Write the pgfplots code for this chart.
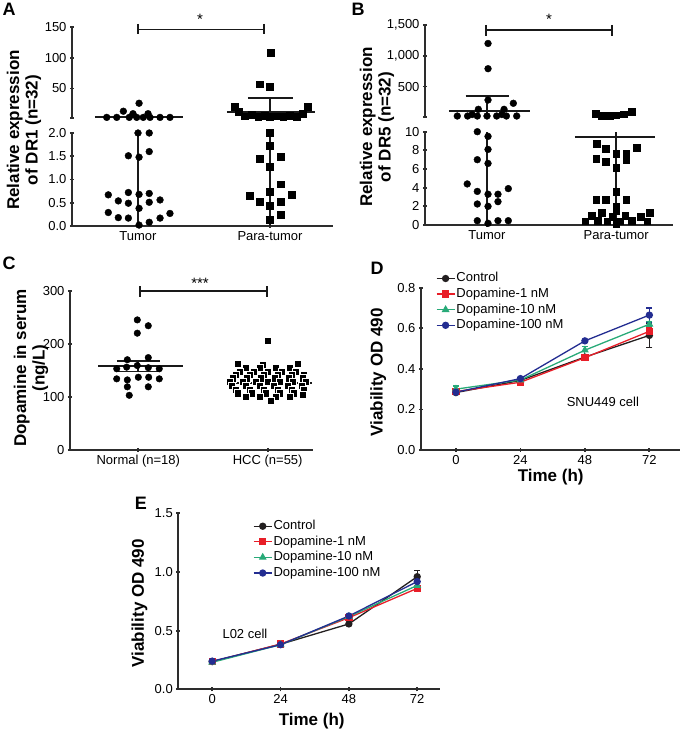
\documentclass[border=0pt]{standalone}
\usepackage{pgfplots}
\usepackage{pgfplotstable}
\pgfplotsset{compat=1.18}
\usepackage{fontspec}
\setmainfont{Liberation Sans}
\definecolor{ctl}{RGB}{35,31,32}
\definecolor{dred}{RGB}{232,30,40}
\definecolor{dgreen}{RGB}{40,170,120}
\definecolor{dblue}{RGB}{35,45,145}
\definecolor{axc}{RGB}{45,45,45}
\newcommand{\tkf}{\fontsize{13}{15}\selectfont}
\newcommand{\lbf}{\fontsize{17}{18.3}\selectfont\bfseries}
\newcommand{\plf}{\fontsize{18}{20}\selectfont\bfseries}
\newcommand{\stf}{\fontsize{15}{15}\selectfont}
\pgfplotsset{
  prism/.style={
    scale only axis, clip=false, anchor=south west,
    axis line style={line width=1.8pt, color=axc},
    tick style={line width=1.8pt, color=axc},
    tick align=outside, major tick length=4pt,
    tick label style={font=\tkf, color=black},
    /pgf/number format/assume math mode=true,
    scaled y ticks=false,
  },
  noarr/.style={
    every outer x axis line/.append style={-},
    every outer y axis line/.append style={-},
    every inner x axis line/.append style={-},
    every inner y axis line/.append style={-},
    x axis line style={-}, y axis line style={-},
  },
  al/.style={axis x line=bottom, axis y line=left, noarr},
  alu/.style={axis x line=none, axis y line=left, noarr, xtick=\empty},
  eb/.style={color=black!90, line width=1.8pt, no markers},
  fix1/.style={yticklabel style={/pgf/number format/fixed, /pgf/number format/fixed zerofill, /pgf/number format/precision=1}},
  circ/.style={only marks, mark=*, mark size=3.4pt, mark options={fill=black, draw=black}},
  sqr/.style={only marks, mark=square*, mark size=3.4pt, mark options={fill=black, draw=black}},
  ser/.style={color=#1, line width=1.3pt, mark options={fill=#1, draw=#1, solid},
    error bars/y dir=both, error bars/y explicit,
    error bars/error bar style={line width=1.2pt, color=#1},
    error bars/error mark options={rotate=90, mark size=3pt, line width=1.2pt, color=#1}},
  leg/.style={legend style={at={#1}, anchor=north west, draw=none, fill=none, font=\tkf, row sep=0pt, inner sep=0pt,
      nodes={inner sep=1.2pt, text height=10pt, text depth=3.2pt}},
    legend cell align=left,
    legend image code/.code={\draw[mark repeat=2,mark phase=2,##1] plot coordinates {(0pt,0pt) (9pt,0pt) (18pt,0pt)};}},
}
\pgfplotstableread{
o v
0 206
-30 163
30 163
-5 160
-22 155
-8 155
8 155
22 155
-28 148
-14 148
0 148
14 148
28 148
-32 141
-18 141
-4 141
10 141
24 141
36 141
-35 135
-21 135
-7 135
7 135
21 135
35 135
-38 128
-25 128
-12 128
0 128
12 128
25 128
38 128
-36 121
-22 121
-8 121
6 121
20 121
34 121
-32 114
-18 114
-4 114
10 114
24 114
36 114
-30 107
-16 107
-2 107
12 107
26 107
35 104
-22 100
-8 100
8 100
22 100
3 92
}\hcc
\begin{document}
\begin{tikzpicture}
\useasboundingbox (0pt,0pt) rectangle (682pt,732pt);

% ================= A lower
\begin{axis}[prism, at={(72pt,506pt)}, width=261pt, height=93pt,
  xmin=-0.5, xmax=1.477, ymin=0, ymax=2,
  al, fix1,
  xtick={0,1}, xticklabels={Tumor, Para-tumor},
  ytick={0,0.5,1,1.5,2}]
\addplot[circ] coordinates {(0,2.00) (0.085,2.00) (-0.073,1.51) (0.008,1.48) (0.085,1.60) (-0.225,0.67) (-0.073,0.72) (0.008,0.68) (0.085,0.70) (-0.149,0.54) (-0.073,0.49) (0.008,0.38) (0.085,0.51) (0.167,0.56) (-0.225,0.29) (-0.149,0.18) (-0.073,0.17) (0.167,0.17) (0.242,0.27) (0.008,0.02) (0.085,0.08)};
\addplot[sqr] coordinates {(1,2.0) (1,1.72) (0.919,1.45) (1.083,1.49) (1,1.28) (1.083,0.90) (1,0.74) (0.843,0.65) (0.919,0.52) (1.164,0.67) (1.083,0.52) (1,0.44) (1.083,0.24) (1,0.13)};
\addplot[eb] coordinates {(0,0) (0,2)};
\addplot[eb] coordinates {(1,0) (1,2)};
\end{axis}
% ================= A upper
\begin{axis}[prism, at={(72pt,614pt)}, width=261pt, height=91pt,
  xmin=-0.5, xmax=1.477, ymin=2, ymax=150,
  alu,
  ytick={50,100,150}, extra y ticks={2}, extra y tick labels={}]
\addplot[circ] coordinates {(0.008,26) (-0.111,13) (-0.038,9) (0.076,9) (-0.237,3) (-0.161,3) (-0.066,3) (-0.01,3) (0.04,3) (0.091,3) (0.167,3) (0.242,3)};
\addplot[sqr] coordinates {(1.005,108) (0.919,57) (1.0,53) (0.735,21) (1.288,21) (0.76,12) (0.81,5) (0.86,8) (0.91,4) (0.96,6) (1.0,4) (1.05,5) (1.10,4) (1.15,6) (1.20,4) (1.25,9)};
\addplot[eb] coordinates {(-0.326,3) (0.341,3)};
\addplot[eb] coordinates {(0.674,12) (1.341,12)};
\addplot[eb] coordinates {(1,2) (1,34)};
\addplot[eb] coordinates {(0.833,34) (1.174,34)};
\draw[black!90, line width=1.8pt] (axis cs:0.002,155)--(axis cs:0.002,138) (axis cs:0.002,146)--(axis cs:0.957,146) (axis cs:0.957,155)--(axis cs:0.957,138);
\node[font=\stf] at (axis cs:0.47,163) {*};
\end{axis}

% ================= B lower
\begin{axis}[prism, at={(425pt,507pt)}, width=248pt, height=93.3pt,
  xmin=-0.48, xmax=1.44, ymin=0, ymax=10,
  al,
  xtick={0,1}, xticklabels={Tumor, Para-tumor},
  ytick={0,2,4,6,8,10}]
\addplot[circ] coordinates {(-0.075,10.0) (0.008,9.5) (0.008,8.1) (-0.075,7.0) (0.008,6.6) (-0.153,4.4) (-0.075,3.6) (0.008,3.3) (0.085,3.3) (0.165,3.9) (-0.075,2.25) (0.008,2.0) (0.085,2.5) (-0.075,0.46) (0.085,0.46) (0.165,0.46) (0.008,0.18)};
\addplot[sqr] coordinates {(0.85,8.75) (0.922,8.2) (1.16,8.3) (1.0,7.6) (1.078,7.7) (1.078,7.0) (0.845,7.1) (0.922,6.8) (1.0,6.1) (1.0,3.6) (0.845,2.75) (0.922,2.7) (1.078,2.75) (1.0,2.0) (0.76,0.4) (0.81,1.0) (0.86,0.5) (0.89,1.3) (0.93,0.4) (0.97,0.9) (1.0,1.5) (1.03,0.4) (1.07,1.0) (1.12,0.5) (1.19,0.9) (1.24,0.4) (1.26,1.3) (1.0,0.1)};
\addplot[eb] coordinates {(0,0) (0,10)};
\addplot[eb] coordinates {(1,0) (1,10)};
\addplot[eb] coordinates {(0.68,9.4) (1.30,9.4)};
\end{axis}
% ================= B upper
\begin{axis}[prism, at={(425pt,615.3pt)}, width=248pt, height=91.7pt,
  xmin=-0.48, xmax=1.44, ymin=10, ymax=1500,
  alu,
  ytick={500,1000,1500}, extra y ticks={10}, extra y tick labels={},
  yticklabel style={/pgf/number format/1000 sep={,}}]
\addplot[circ] coordinates {(0.008,1200) (0.008,790) (0.008,281) (0.204,228) (-0.067,130) (0.132,130) (-0.23,21) (-0.15,21) (-0.075,21) (0.0,21) (0.075,21) (0.15,21) (0.23,21) (-0.115,45) (0.115,45)};
\addplot[sqr] coordinates {(0.84,55) (0.89,30) (0.95,30) (1.0,35) (1.06,50) (1.12,85)};
\addplot[eb] coordinates {(0,10) (0,351)};
\addplot[eb] coordinates {(-0.165,351) (0.171,351)};
\addplot[eb] coordinates {(-0.295,108) (0.333,108)};
\draw[black!90, line width=1.8pt] (axis cs:-0.01,1501)--(axis cs:-0.01,1322) (axis cs:-0.01,1420)--(axis cs:0.967,1420) (axis cs:0.967,1501)--(axis cs:0.967,1322);
\node[font=\stf] at (axis cs:0.48,1600) {*};
\end{axis}

% ================= C
\begin{axis}[prism, at={(70pt,282pt)}, width=243pt, height=159.3pt,
  xmin=-0.528, xmax=1.35, ymin=0, ymax=300,
  al,
  xtick={0,1}, xticklabels={Normal (n=18), HCC (n=55)},
  ytick={0,100,200,300}]
\addplot[circ, mark size=3.3pt] coordinates {(-0.008,245) (0.077,234) (-0.008,220) (-0.085,170) (0.077,174) (-0.167,153) (-0.09,156) (-0.008,159) (0.077,155) (0.162,153) (-0.167,134) (-0.085,132) (0,137) (0.08,137) (0.162,134) (-0.085,119) (0.077,119) (-0.07,103)};
\addplot[only marks, mark=square*, mark size=3.6pt, mark options={fill=black, draw=white, line width=0.5pt}] table[x expr={1+\thisrow{o}/129.4}, y=v] {\hcc};
\addplot[eb] coordinates {(-0.311,157.5) (0.345,157.5)};
\addplot[eb] coordinates {(-0.165,167.5) (0.168,167.5)};
\addplot[eb] coordinates {(-0.165,148) (0.168,148)};
\addplot[eb] coordinates {(0,148) (0,167.5)};
\addplot[eb] coordinates {(0.709,126) (1.34,126)};
\addplot[eb] coordinates {(0.88,130) (1.12,130)};
\addplot[eb] coordinates {(0.88,122) (1.12,122)};
\addplot[eb] coordinates {(1,122) (1,130)};
\draw[black!90, line width=1.8pt] (axis cs:0.011,308)--(axis cs:0.011,289) (axis cs:0.011,298.7)--(axis cs:0.997,298.7) (axis cs:0.997,308)--(axis cs:0.997,289);
\node[font=\stf] at (axis cs:0.477,314) {***};
\end{axis}

% ================= D
\begin{axis}[prism, at={(421pt,282pt)}, width=259pt, height=162.3pt,
  xmin=-13, xmax=83.4, ymin=0, ymax=0.8,
  al, fix1,
  xtick={0,24,48,72}, ytick={0,0.2,0.4,0.6,0.8},
  leg={(0.057,1.106)}]
\addplot[mark=*, mark size=3pt, ser=ctl] coordinates {(0,0.283) +- (0,0.01) (24,0.343) +- (0,0.008) (48,0.458) +- (0,0.01) (72,0.565) +- (0,0.06)};
\addplot[mark=square*, mark size=3pt, ser=dred] coordinates {(0,0.288) +- (0,0.008) (24,0.334) +- (0,0.008) (48,0.455) +- (0,0.012) (72,0.585) +- (0,0.02)};
\addplot[mark=triangle*, mark size=3.3pt, ser=dgreen] coordinates {(0,0.300) +- (0,0.015) (24,0.345) +- (0,0.006) (48,0.492) +- (0,0.02) (72,0.620) +- (0,0.012)};
\addplot[mark=*, mark size=3pt, ser=dblue] coordinates {(0,0.285) +- (0,0.008) (24,0.352) +- (0,0.006) (48,0.538) +- (0,0.008) (72,0.665) +- (0,0.035)};
\legend{Control, Dopamine-1 nM, Dopamine-10 nM, Dopamine-100 nM}
\node[font=\tkf] at (axis cs:54.7,0.238) {SNU449 cell};
\end{axis}

% ================= E
\begin{axis}[prism, at={(178.3pt,42.7pt)}, width=261.7pt, height=176pt,
  xmin=-11.9, xmax=80, ymin=0, ymax=1.5,
  al, fix1,
  xtick={0,24,48,72}, ytick={0,0.5,1,1.5},
  leg={(0.285,0.972)}]
\addplot[mark=*, mark size=3pt, ser=ctl] coordinates {(0,0.236) +- (0,0.01) (24,0.384) +- (0,0.01) (48,0.557) +- (0,0.015) (72,0.96) +- (0,0.05)};
\addplot[mark=square*, mark size=3pt, ser=dred] coordinates {(0,0.235) +- (0,0.01) (24,0.386) +- (0,0.01) (48,0.61) +- (0,0.01) (72,0.86) +- (0,0.02)};
\addplot[mark=triangle*, mark size=3.3pt, ser=dgreen] coordinates {(0,0.23) +- (0,0.01) (24,0.38) +- (0,0.01) (48,0.62) +- (0,0.01) (72,0.885) +- (0,0.02)};
\addplot[mark=*, mark size=3pt, ser=dblue] coordinates {(0,0.24) +- (0,0.01) (24,0.38) +- (0,0.01) (48,0.625) +- (0,0.01) (72,0.918) +- (0,0.03)};
\legend{Control, Dopamine-1 nM, Dopamine-10 nM, Dopamine-100 nM}
\node[font=\tkf] at (axis cs:11.5,0.47) {L02 cell};
\end{axis}

% ================= labels
\node[rotate=90, align=center, font=\lbf] at (24pt,602pt) {Relative expression\\of DR1 (n=32)};
\node[rotate=90, align=center, font=\lbf] at (377pt,605pt) {Relative expression\\of DR5 (n=32)};
\node[rotate=90, align=center, font=\lbf] at (31pt,364pt) {Dopamine in serum\\(ng/L)};
\node[rotate=90, font=\lbf] at (378.3pt,359.5pt) {Viability OD 490};
\node[rotate=90, font=\lbf] at (139.5pt,128.7pt) {Viability OD 490};
\node[font=\lbf] at (550.7pt,255.3pt) {Time (h)};
\node[font=\lbf] at (311.7pt,11pt) {Time (h)};
\node[font=\plf] at (9pt,723pt) {A};
\node[font=\plf] at (358pt,723pt) {B};
\node[font=\plf] at (9pt,469pt) {C};
\node[font=\plf] at (377pt,464pt) {D};
\node[font=\plf] at (141pt,229pt) {E};
\end{tikzpicture}
\end{document}
